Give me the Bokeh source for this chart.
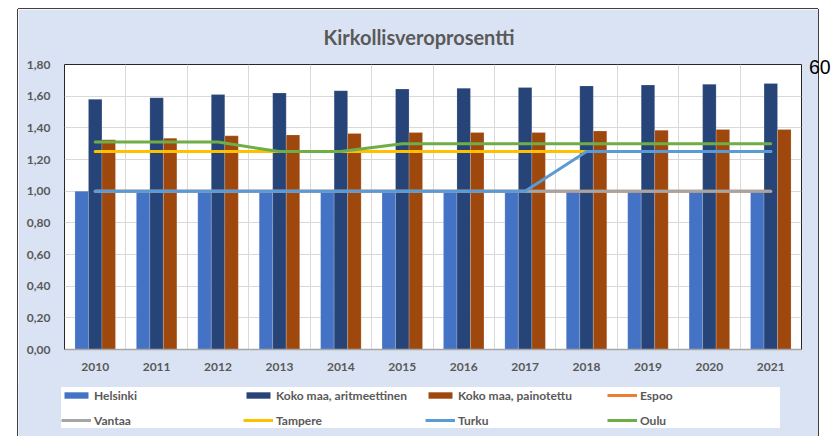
from bokeh.plotting import figure
from bokeh.layouts import row, column
from bokeh.models import (ColumnDataSource, Range1d, FixedTicker, CustomJSTickFormatter,
                          Legend, LegendItem, Div)
from bokeh.transform import dodge
from bokeh.embed import file_html
from bokeh.resources import INLINE

years = ["2010", "2011", "2012", "2013", "2014", "2015",
         "2016", "2017", "2018", "2019", "2020", "2021"]
helsinki = [1.00, 1.00, 1.00, 1.00, 1.00, 1.00, 1.00, 1.00, 1.00, 1.00, 1.00, 1.00]
koko_aritm = [1.58, 1.59, 1.61, 1.62, 1.635, 1.645, 1.65, 1.655, 1.665, 1.67, 1.675, 1.68]
koko_paino = [1.325, 1.335, 1.35, 1.355, 1.365, 1.37, 1.37, 1.37, 1.38, 1.385, 1.39, 1.39]
espoo = [1.00, 1.00, 1.00, 1.00, 1.00, 1.00, 1.00, 1.00, 1.00, 1.00, 1.00, 1.00]
vantaa = [1.00, 1.00, 1.00, 1.00, 1.00, 1.00, 1.00, 1.00, 1.00, 1.00, 1.00, 1.00]
tampere = [1.25, 1.25, 1.25, 1.25, 1.25, 1.25, 1.25, 1.25, 1.25, 1.25, 1.25, 1.25]
turku = [1.00, 1.00, 1.00, 1.00, 1.00, 1.00, 1.00, 1.00, 1.25, 1.25, 1.25, 1.25]
oulu = [1.31, 1.31, 1.31, 1.25, 1.25, 1.30, 1.30, 1.30, 1.30, 1.30, 1.30, 1.30]
y_ticks = [0.0, 0.2, 0.4, 0.6, 0.8, 1.0, 1.2, 1.4, 1.6, 1.8]

series_bars = [("Helsinki", "#4472C4", "helsinki"),
               ("Koko maa, aritmeettinen", "#264478", "aritm"),
               ("Koko maa, painotettu", "#9E480E", "paino")]
series_lines = [("Espoo", "#ED7D31", espoo), ("Vantaa", "#A5A5A5", vantaa),
                ("Tampere", "#FFC000", tampere), ("Turku", "#5B9BD5", turku),
                ("Oulu", "#70AD47", oulu)]

idx = list(range(len(years)))
src = ColumnDataSource(dict(x=idx, helsinki=helsinki, aritm=koko_aritm, paino=koko_paino))

FONT = "Lato"
GRAY = "#595959"
BG = "#DAE3F3"
EDGE = "#404040"

# ---------------- main chart ----------------
p = figure(frame_width=737, frame_height=285,
           min_border_left=46, min_border_right=17, min_border_top=55, min_border_bottom=36,
           x_range=Range1d(-0.5, len(years) - 0.5), y_range=Range1d(0, 1.8),
           output_backend="svg", toolbar_location=None,
           title="Kirkollisveroprosentti")
p.margin = (9, 0, 0, 18)
p.styles = {"box-shadow": f"-1px 0 0 0 {EDGE}, 1px 0 0 0 {EDGE}, 0 -1px 0 0 {EDGE}"}
p.background_fill_color = "white"
p.border_fill_color = BG
p.outline_line_color = "#262626"

p.title.align = "left"
p.title.offset = 259
p.title.vertical_align = "top"
p.title.text_font = FONT
p.title.text_font_style = "bold"
p.title.text_font_size = "20px"
p.title.text_color = GRAY
p.title.standoff = 27

bw = 0.22
for (name, col, field), off in zip(series_bars, [-bw, 0, bw]):
    p.vbar(x=dodge("x", off, range=p.x_range), top=field, width=bw, source=src,
           fill_color=col, line_color="white", line_alpha=0.3, line_width=0.6)
for name, col, vals in series_lines:
    p.line(idx, vals, line_width=3, color=col, line_cap="round")

# grids
p.ygrid.ticker = FixedTicker(ticks=y_ticks)
p.ygrid.grid_line_color = "#D9D9D9"
p.xgrid.ticker = FixedTicker(ticks=[i + 0.5 for i in idx[:-1]])
p.xgrid.grid_line_color = "#D9D9D9"

# axes
p.yaxis.ticker = FixedTicker(ticks=y_ticks)
p.yaxis.formatter = CustomJSTickFormatter(code="return tick.toFixed(2).replace('.', ',');")
p.yaxis.axis_line_color = None
p.yaxis.major_tick_line_color = None
p.yaxis.minor_tick_line_color = None
p.yaxis.major_label_standoff = 8
p.xaxis.ticker = FixedTicker(ticks=idx)
p.xaxis.major_label_overrides = {i: y for i, y in zip(idx, years)}
p.xaxis.axis_line_color = "#A6A6A6"
p.xaxis.axis_line_width = 1.5
p.xaxis.major_tick_line_color = None
p.xaxis.minor_tick_line_color = None
p.xaxis.major_label_standoff = 7
for ax in (p.xaxis[0], p.yaxis[0]):
    ax.major_label_text_font = FONT
    ax.major_label_text_font_style = "bold"
    ax.major_label_text_font_size = "12px"
    ax.major_label_text_color = GRAY

# ---------------- legend strip (continuation of the chart area) ----------------
# same series drawn again, but the view range is off to the side so only the
# legend of this strip is visible
leg = figure(width=800, height=53, min_border=0,
             x_range=Range1d(-100, -99), y_range=Range1d(0, 1),
             x_axis_type=None, y_axis_type=None,
             output_backend="svg", toolbar_location=None)
leg.margin = (-2, 0, 0, 18)
leg.styles = {"box-shadow": f"-1px 0 0 0 {EDGE}, 1px 0 0 0 {EDGE}"}
leg.background_fill_color = BG
leg.border_fill_color = BG
leg.outline_line_color = None
leg.grid.visible = False

items = []
for name, col, field in series_bars:
    r = leg.vbar(x="x", top=field, width=bw, source=src, fill_color=col, line_color=None)
    items.append(LegendItem(label=name, renderers=[r]))
for name, col, vals in series_lines:
    r = leg.line(idx, vals, line_width=3, color=col)
    items.append(LegendItem(label=name, renderers=[r]))

legend = Legend(items=items, location=(43, 8), orientation="horizontal", ncols=4)
legend.glyph_width = 30
legend.glyph_height = 8
legend.label_height = 16
legend.label_width = 140
legend.label_standoff = 3
legend.spacing = 9
legend.padding = 4
legend.margin = 0
legend.border_line_color = None
legend.background_fill_color = "white"
legend.background_fill_alpha = 1.0
legend.label_text_font = FONT
legend.label_text_font_style = "bold"
legend.label_text_font_size = "12px"
legend.label_text_color = GRAY
leg.add_layout(legend, "center")

stray = Div(text="60", width=16, height=30, margin=(54, 0, 0, -9),
            styles={"font-family": "Liberation Sans", "font-size": "19.5px",
                    "color": "black", "white-space": "nowrap"})

layout = column(row(p, stray), leg)
open("out.html", "w").write(file_html(layout, INLINE))
